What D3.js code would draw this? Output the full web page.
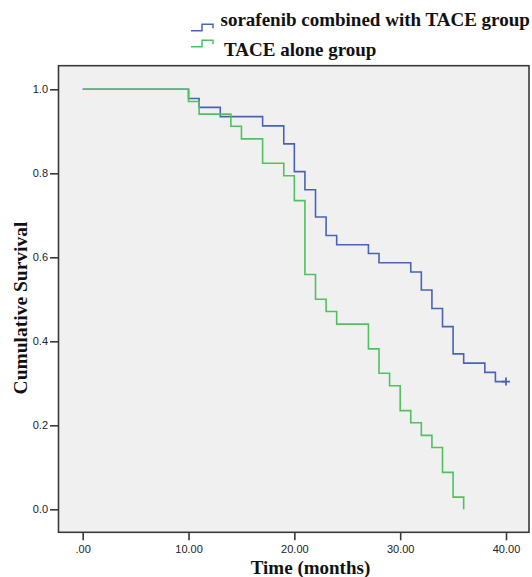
<!DOCTYPE html>
<html>
<head>
<meta charset="utf-8">
<script src="https://cdn.jsdelivr.net/npm/d3@7"></script>
<style>
  html, body { margin: 0; padding: 0; background: #ffffff; }
  svg { display: block; }
</style>
</head>
<body>
<svg id="chart" width="532" height="577"></svg>
<script>
// ---- data ----
const seriesNames = ["sorafenib combined with TACE group", "TACE alone group"];

// sorafenib + TACE: event times (months) and survival after each step
const comboTimes    = [0, 10, 11, 13, 17, 19, 20, 21, 22, 23, 24, 27, 28, 31, 32, 33, 34, 35, 36, 38, 39, 40];
const comboSurvival = [1.0, 0.978, 0.957, 0.935, 0.913, 0.870, 0.804, 0.761, 0.696, 0.652, 0.630, 0.609, 0.587, 0.565, 0.522, 0.478, 0.435, 0.370, 0.348, 0.326, 0.304, 0.304];
const comboCensorTimes = [40];
const comboCensorSurvival = [0.304];

// TACE alone
const taceTimes    = [0, 10, 11, 14, 15, 17, 19, 20, 21, 22, 23, 24, 27, 28, 29, 30, 31, 32, 33, 34, 35, 36];
const taceSurvival = [1.0, 0.971, 0.941, 0.912, 0.882, 0.824, 0.794, 0.735, 0.559, 0.500, 0.471, 0.441, 0.382, 0.324, 0.294, 0.235, 0.206, 0.176, 0.147, 0.088, 0.029, 0.0];

const xTickValues = [0, 10, 20, 30, 40];
const xTickLabels = [".00", "10.00", "20.00", "30.00", "40.00"];
const yTickValues = [0, 0.2, 0.4, 0.6, 0.8, 1.0];
const yTickLabels = ["0.0", "0.2", "0.4", "0.6", "0.8", "1.0"];

const xTitle = "Time (months)";
const yTitle = "Cumulative Survival";

// ---- layout ----
const svg = d3.select("#chart");
const frame = { left: 58.5, right: 529, top: 65.7, bottom: 532.3 };
const blue = "#4a62b8";
const green = "#4fc25d";
const axisColor = "#3a3a3a";

const x = d3.scaleLinear().domain([0, 40]).range([82.7, 506]);
const y = d3.scaleLinear().domain([0, 1]).range([509.3, 89.3]);

// plot background
svg.append("rect")
  .attr("x", frame.left).attr("y", frame.top)
  .attr("width", frame.right - frame.left)
  .attr("height", frame.bottom - frame.top)
  .attr("fill", "#f0f0f0");

// curves
const line = d3.line()
  .x(d => x(d[0]))
  .y(d => y(d[1]))
  .curve(d3.curveStepAfter);

const comboData = comboTimes.map((t, i) => [t, comboSurvival[i]]);
const taceData = taceTimes.map((t, i) => [t, taceSurvival[i]]);

svg.append("path").datum(comboData)
  .attr("d", line).attr("fill", "none")
  .attr("stroke", blue).attr("stroke-width", 1.6);

// censor marks
comboCensorTimes.forEach((t, i) => {
  const cx = x(t), cy = y(comboCensorSurvival[i]);
  svg.append("path")
    .attr("d", `M${cx - 4},${cy}H${cx + 4}M${cx},${cy - 4}V${cy + 4}`)
    .attr("stroke", blue).attr("stroke-width", 1.8).attr("fill", "none");
});

svg.append("path").datum(taceData)
  .attr("d", line).attr("fill", "none")
  .attr("stroke", green).attr("stroke-width", 1.6);

// frame
svg.append("rect")
  .attr("x", frame.left).attr("y", frame.top)
  .attr("width", frame.right - frame.left)
  .attr("height", frame.bottom - frame.top)
  .attr("fill", "none")
  .attr("stroke", axisColor).attr("stroke-width", 1.6);

// x axis
const xAxis = d3.axisBottom(x)
  .tickValues(xTickValues)
  .tickFormat((d, i) => xTickLabels[i])
  .tickSizeInner(8).tickSizeOuter(0).tickPadding(5);
const gx = svg.append("g").attr("transform", `translate(0,${frame.bottom})`).call(xAxis);
gx.select(".domain").remove();
gx.selectAll(".tick line").attr("stroke", axisColor).attr("stroke-width", 1.6);
gx.selectAll(".tick text")
  .attr("fill", "#222")
  .style("font-family", "'Liberation Sans', Arial, sans-serif")
  .style("font-size", "11px");

// y axis
const yAxis = d3.axisLeft(y)
  .tickValues(yTickValues)
  .tickFormat((d, i) => yTickLabels[i])
  .tickSizeInner(8.5).tickSizeOuter(0).tickPadding(2);
const gy = svg.append("g").attr("transform", `translate(${frame.left},0)`).call(yAxis);
gy.select(".domain").remove();
gy.selectAll(".tick line").attr("stroke", axisColor).attr("stroke-width", 1.6);
gy.selectAll(".tick text")
  .attr("fill", "#222")
  .style("font-family", "'Liberation Sans', Arial, sans-serif")
  .style("font-size", "11px");

// titles
const serif = "'Liberation Serif', 'Times New Roman', serif";
svg.append("text")
  .attr("x", 310.5).attr("y", 574)
  .attr("text-anchor", "middle")
  .style("font-family", serif).style("font-weight", "bold").style("font-size", "19px")
  .attr("fill", "#111")
  .text(xTitle);

svg.append("text")
  .attr("transform", "translate(27,308) rotate(-90)")
  .attr("text-anchor", "middle")
  .style("font-family", serif).style("font-weight", "bold").style("font-size", "19.5px")
  .attr("fill", "#111")
  .text(yTitle);

// legend
const legendItems = [
  { name: seriesNames[0], color: blue, base: 26, tx: 220.5, sy: 30.7 },
  { name: seriesNames[1], color: green, base: 56, tx: 224, sy: 46.7 }
];
legendItems.forEach(it => {
  svg.append("path")
    .attr("d", `M191,${it.sy}H202V${it.sy - 6.5}H213V${it.sy - 2.5}`)
    .attr("fill", "none").attr("stroke", it.color).attr("stroke-width", 1.5);
  svg.append("text")
    .attr("x", it.tx).attr("y", it.base)
    .style("font-family", serif).style("font-weight", "bold").style("font-size", "19px")
    .attr("fill", "#111")
    .text(it.name);
});
</script>
</body>
</html>
